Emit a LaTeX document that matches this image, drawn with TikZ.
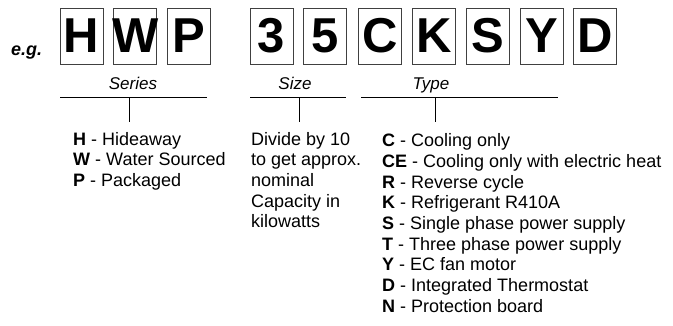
\documentclass[tikz,border=0pt]{standalone}
\usepackage{fontspec}
\setmainfont{Liberation Sans}
\usetikzlibrary{positioning}
\begin{document}
\begin{tikzpicture}[x=1pt,y=-1pt,
	letter/.style={draw=black!75,line width=0.8pt,minimum width=43pt,minimum height=56pt,inner sep=0pt,font=\fontsize{49}{49}\selectfont\bfseries},
	head/.style={font=\fontsize{17}{20}\selectfont\itshape,anchor=base,inner sep=0pt},
	list/.style={font=\fontsize{18}{20.7}\selectfont,align=left,anchor=base west,inner sep=0pt}]
	\useasboundingbox (0,0) rectangle (673,325);
	\node[font=\fontsize{18}{18}\selectfont\bfseries\itshape,anchor=base west,inner sep=0pt] at (11,55) (eg) {e.g.};

	\node[letter] at (81.5,36) (H) {H};
	\node[letter,right=10pt of H] (W) {\makebox[0pt]{W}};
	\node[letter,right=10pt of W] (P) {P};

	\node[letter] at (271.5,36) (s3) {3};
	\node[letter,right=10pt of s3] (s5) {5};

	\node[letter,right=11pt of s5] (C) {C};
	\node[letter,right=10pt of C] (K) {K};
	\node[letter,right=10pt of K] (S) {S};
	\node[letter,right=10pt of S] (Y) {Y};
	\node[letter,right=10pt of Y] (D) {D};

	\node[head] at (133,89) (series) {Series};
	\coordinate (serL) at (60,97);
	\coordinate (serR) at (207,97);
	\coordinate (serT) at (129,97);
	\coordinate (serB) at (129,122);
	\draw (serL) -- (serR);
	\draw (serT) -- (serB);

	\node[head] at (295,89) (size) {Size};
	\coordinate (sizL) at (250,97);
	\coordinate (sizR) at (346,97);
	\coordinate (sizT) at (299,97);
	\coordinate (sizB) at (299,122);
	\draw (sizL) -- (sizR);
	\draw (sizT) -- (sizB);

	\node[head] at (431,89) (type) {Type};
	\coordinate (typL) at (361,97);
	\coordinate (typR) at (558,97);
	\coordinate (typT) at (435,97);
	\coordinate (typB) at (435,122);
	\draw (typL) -- (typR);
	\draw (typT) -- (typB);

	% base of a multi-line node sits on its last line
	\node[list] at (73,186.4) (serieslist) {\textbf{H} - Hideaway\\\textbf{W} - Water Sourced\\\textbf{P} - Packaged};
	\node[list] at (251,227.8) (sizelist) {Divide by 10\\to get approx.\\nominal\\Capacity in\\kilowatts};
	\node[list] at (382,312.3) (typelist) {\textbf{C} - Cooling only\\\textbf{CE} - Cooling only with electric heat\\\textbf{R} - Reverse cycle\\\textbf{K} - Refrigerant R410A\\\textbf{S} - Single phase power supply\\\textbf{T} - Three phase power supply\\\textbf{Y} - EC fan motor\\\textbf{D} - Integrated Thermostat\\\textbf{N} - Protection board};
\end{tikzpicture}
\end{document}
